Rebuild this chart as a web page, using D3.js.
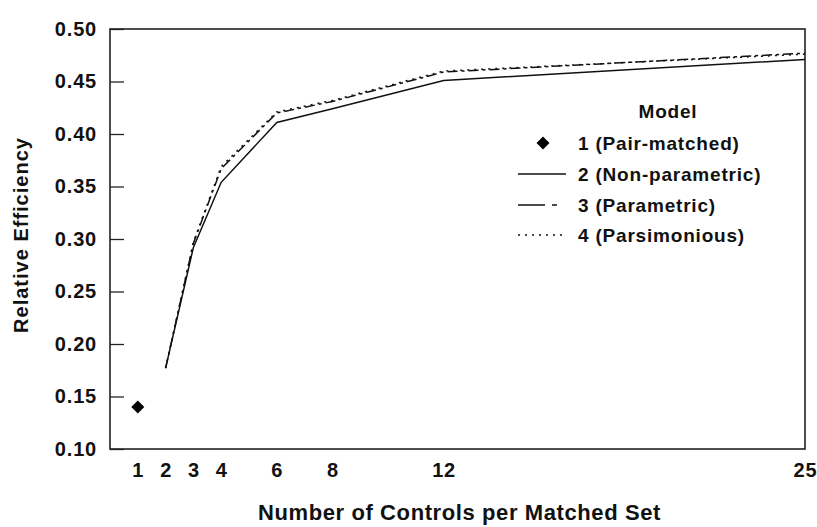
<!DOCTYPE html>
<html><head><meta charset="utf-8">
<script src="https://cdn.jsdelivr.net/npm/d3@7"></script>
<style>
html,body{margin:0;padding:0;background:#fff;}
text{font-family:"Liberation Sans",Arial,sans-serif;fill:#111;}
</style></head>
<body><svg id="c" width="817" height="527"></svg>
<script>
// ---- data ----
const controls = [2, 3, 4, 6, 8, 12, 25];
const pairMatchedX = [1];
const pairMatchedY = [0.14];
const nonParametric = [0.177, 0.292, 0.354, 0.411, 0.424, 0.451, 0.471];
const parametric    = [0.177, 0.296, 0.367, 0.420, 0.431, 0.459, 0.477];
const parsimonious  = [0.177, 0.297, 0.369, 0.421, 0.432, 0.460, 0.476];
const xTicks = [1, 2, 3, 4, 6, 8, 12, 25];
const yTicks = [0.10, 0.15, 0.20, 0.25, 0.30, 0.35, 0.40, 0.45, 0.50];
const legendTitle = "Model";
const legendLabels = ["1 (Pair-matched)", "2 (Non-parametric)", "3 (Parametric)", "4 (Parsimonious)"];

// ---- layout ----
const W = 817, H = 527;
const m = {left: 110, top: 29, right: 12, bottom: 78};
const svg = d3.select("#c");
const x = d3.scaleLinear().domain([0, 25]).range([m.left, W - m.right]);
const y = d3.scaleLinear().domain([0.10, 0.50]).range([H - m.bottom, m.top]);

// frame
svg.append("rect").attr("x", x(0)).attr("y", y(0.5))
  .attr("width", x(25) - x(0)).attr("height", y(0.1) - y(0.5))
  .attr("fill", "none").attr("stroke", "#222").attr("stroke-width", 1.6);

// y axis
const ya = svg.append("g").attr("transform", `translate(${x(0)},0)`)
  .call(d3.axisLeft(y).tickValues(yTicks).tickFormat(d3.format(".2f")).tickSize(-14).tickPadding(13));
ya.select(".domain").remove();
ya.selectAll("line").attr("stroke", "#222").attr("stroke-width", 1.3);
ya.selectAll("text").attr("font-size", 20).attr("font-weight", "bold")
  .attr("font-family", "Liberation Sans, Arial, sans-serif").attr("fill", "#111").attr("letter-spacing", 0.8);

// x axis
const xa = svg.append("g").attr("transform", `translate(0,${y(0.1)})`)
  .call(d3.axisBottom(x).tickValues(xTicks).tickFormat(d3.format("d")).tickSize(0).tickPadding(14));
xa.select(".domain").remove();
xa.selectAll("text").attr("font-size", 20).attr("font-weight", "bold")
  .attr("font-family", "Liberation Sans, Arial, sans-serif").attr("fill", "#111").attr("letter-spacing", 0.8);

// axis titles
svg.append("text").attr("x", (x(0) + x(25)) / 2 + 2).attr("y", 520)
  .attr("text-anchor", "middle").attr("font-size", 22).attr("font-weight", "bold")
  .attr("letter-spacing", 0.6).text("Number of Controls per Matched Set");
svg.append("text").attr("transform", `translate(28,235) rotate(-90)`)
  .attr("text-anchor", "middle").attr("font-size", 20).attr("font-weight", "bold")
  .attr("letter-spacing", 1).text("Relative Efficiency");

// lines
const line = d3.line().x(d => x(d[0])).y(d => y(d[1]));
const series = [
  {vals: nonParametric, dash: null},
  {vals: parametric, dash: "10,4,3,4"},
  {vals: parsimonious, dash: "2,5"}
];
series.forEach(s => {
  svg.append("path").datum(controls.map((c, i) => [c, s.vals[i]]))
    .attr("d", line).attr("fill", "none").attr("stroke", "#111")
    .attr("stroke-width", 1.5).attr("stroke-dasharray", s.dash);
});

// pair-matched point
const diamond = d3.symbol(d3.symbolSquare, 85);
svg.selectAll(".pm").data(pairMatchedX.map((v, i) => [v, pairMatchedY[i]])).enter()
  .append("path").attr("d", diamond)
  .attr("transform", d => `translate(${x(d[0])},${y(d[1])}) rotate(45)`)
  .attr("fill", "#000");

// legend
const lg = svg.append("g");
lg.append("text").attr("x", 668).attr("y", 118).attr("text-anchor", "middle")
  .attr("font-size", 19).attr("font-weight", "bold").attr("letter-spacing", 0.8).text(legendTitle);
const rows = [150, 181, 212, 242];
legendLabels.forEach((lab, i) => {
  lg.append("text").attr("x", 578).attr("y", rows[i]).attr("font-size", 19)
    .attr("font-weight", "bold").attr("letter-spacing", 0.8).text(lab);
  const cy = rows[i] - 7;
  if (i === 0) {
    lg.append("path").attr("d", diamond).attr("transform", `translate(543,${cy}) rotate(45)`).attr("fill", "#000");
  } else {
    lg.append("line").attr("x1", 518).attr("x2", 566).attr("y1", cy).attr("y2", cy)
      .attr("stroke", "#111").attr("stroke-width", 1.3)
      .attr("stroke-dasharray", series[i - 1].dash === "10,4,3,4" ? "27,7,5,20" : series[i - 1].dash);
  }
});
</script></body></html>
